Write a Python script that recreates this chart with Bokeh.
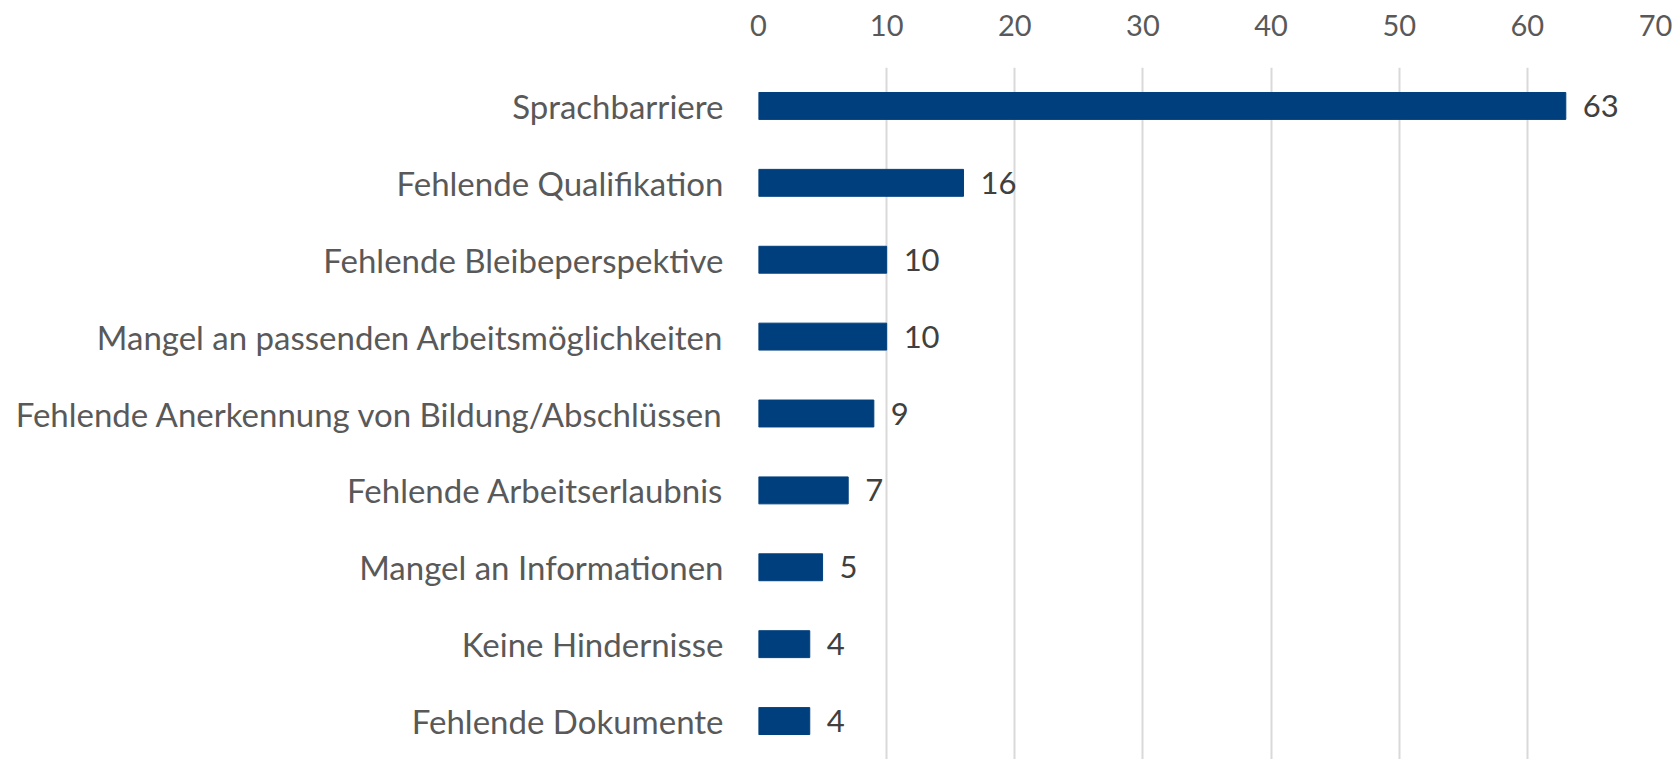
from bokeh.plotting import figure
from bokeh.models import ColumnDataSource, FactorRange, Range1d, FixedTicker
from bokeh.core.properties import value
from bokeh.embed import file_html
from bokeh.resources import INLINE

categories = [
    "Sprachbarriere",
    "Fehlende Qualifikation",
    "Fehlende Bleibeperspektive",
    "Mangel an passenden Arbeitsmöglichkeiten",
    "Fehlende Anerkennung von Bildung/Abschlüssen",
    "Fehlende Arbeitserlaubnis",
    "Mangel an Informationen",
    "Keine Hindernisse",
    "Fehlende Dokumente",
]
values = [63, 16, 10, 10, 9, 7, 5, 4, 4]
x_ticks = [0, 10, 20, 30, 40, 50, 60, 70]

FONT = "Lato"
BAR = "#003f7d"

src = ColumnDataSource(dict(cat=categories, val=values, lbl=[str(v) for v in values]))

p = figure(
    y_range=FactorRange(factors=list(reversed(categories))),
    x_range=Range1d(0, 70),
    width=1676, height=759,
    x_axis_location="above",
    output_backend="svg", toolbar_location=None,
    min_border_left=758, min_border_right=21, min_border_top=67, min_border_bottom=0,
)
p.outline_line_color = None
p.background_fill_color = "white"
p.border_fill_color = "white"

p.hbar(y="cat", right="val", left=0, height=0.35, source=src,
       fill_color=BAR, line_color=BAR)

p.text(x="val", y="cat", text="lbl", source=src, x_offset=17,
       text_baseline="middle", text_align="left",
       text_font=value(FONT), text_font_size="31px", text_color="#404040")

xa = p.xaxis[0]
xa.ticker = FixedTicker(ticks=x_ticks)
xa.axis_line_color = None
xa.major_tick_line_color = None
xa.minor_tick_line_color = None
xa.major_label_text_font = FONT
xa.major_label_text_font_size = "29px"
xa.major_label_text_color = "#595959"
xa.major_label_standoff = 26

ya = p.yaxis[0]
ya.axis_line_color = None
ya.major_tick_line_color = None
ya.major_tick_out = 0
ya.major_label_text_font = FONT
ya.major_label_text_font_size = "33px"
ya.major_label_text_color = "#595959"
ya.major_label_standoff = 35

p.xgrid.grid_line_color = "#d9d9d9"
p.xgrid.grid_line_width = 2
p.ygrid.grid_line_color = None

open("out.html", "w").write(file_html(p, INLINE))
